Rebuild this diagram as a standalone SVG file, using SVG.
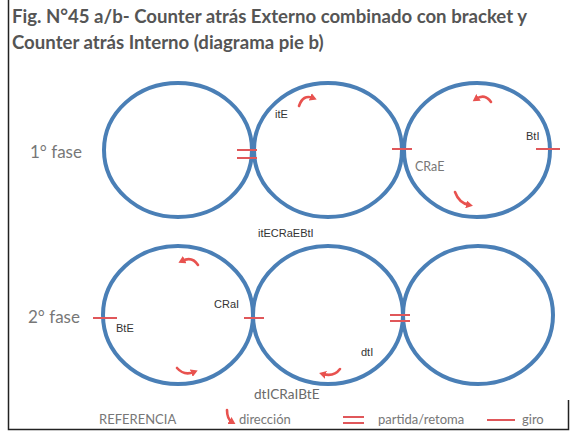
<svg xmlns="http://www.w3.org/2000/svg" width="571" height="432" viewBox="0 0 571 432">
<style>
.ring{fill:none;stroke:#4a7fb6;stroke-width:4}
.red{stroke:#e0575a;stroke-width:2;fill:none}
.arr{stroke:#e8524f;stroke-width:2.6;fill:none;stroke-linecap:round}
.title{font-family:Lato,"Liberation Sans",sans-serif;font-weight:bold;font-size:18.6px;fill:#555}
.fase{font-family:Lato,"Liberation Sans",sans-serif;font-size:17px;fill:#777}
.lbl{font-family:"Liberation Sans",Arial,sans-serif;font-size:11px;fill:#333}
.glbl{font-family:Lato,"Liberation Sans",sans-serif;font-size:12.5px;fill:#777}
.leg{font-family:Lato,"Liberation Sans",sans-serif;font-size:13px;fill:#777}
</style>
<defs>
<marker id="ah" markerUnits="userSpaceOnUse" markerWidth="8" markerHeight="8" refX="3" refY="4" orient="auto">
<path d="M0,0 L7,4 L0,8 z" fill="#e8524f"/>
</marker>
</defs>
<rect width="571" height="432" fill="#fff"/>
<path d="M8.5,0 V429.5 H568.5 V400" fill="none" stroke="#222" stroke-width="1.5"/>
<text class="title" x="12" y="23">Fig. N°45 a/b- Counter atrás Externo combinado con bracket y</text>
<text class="title" x="12" y="49">Counter atrás Interno (diagrama pie b)</text>
<text class="fase" x="30" y="158">1° fase</text>
<text class="fase" x="28" y="323">2° fase</text>
<g id="f1c1"><ellipse class="ring" cx="178" cy="150" rx="74" ry="67"/></g>
<g id="f1c2"><ellipse class="ring" cx="328" cy="150" rx="74" ry="67"/>
<text class="lbl" x="275" y="118">itE</text></g>
<g id="f1c3"><ellipse class="ring" cx="477" cy="150" rx="73" ry="67"/>
<text class="glbl" x="415" y="171">CRaE</text>
<text class="lbl" x="526" y="140">BtI</text></g>
<text class="lbl" x="258" y="237">itECRaEBtI</text>
<g id="f2c1"><ellipse class="ring" cx="178" cy="315" rx="75" ry="69"/>
<text class="lbl" x="214" y="308">CRaI</text>
<text class="lbl" x="116" y="332">BtE</text></g>
<g id="f2c2"><ellipse class="ring" cx="328" cy="315" rx="75" ry="69"/>
<text class="lbl" x="361" y="356">dtI</text></g>
<g id="f2c3"><ellipse class="ring" cx="478" cy="315" rx="75" ry="69"/></g>
<text class="glbl" x="254" y="399" style="font-size:13.6px;fill:#6a6a6a">dtICRaIBtE</text>
<g id="connectors">
<path class="red" d="M237,150 H257 M237,158 H257"/>
<path class="red" d="M392,149 H412"/>
<path class="red" d="M536,149 H560"/>
<path class="red" d="M93,318 H117"/>
<path class="red" d="M244,318 H264"/>
<path class="red" d="M390,315 H410 M390,321 H410"/>
<path class="arr" d="M299,106 Q303,94 313,98" marker-end="url(#ah)"/>
<path class="arr" d="M491,102 Q485,93 476,99" marker-end="url(#ah)"/>
<path class="arr" d="M455,192 Q459,203 469,205" marker-end="url(#ah)"/>
<path class="arr" d="M198,265 Q192,256 182,261" marker-end="url(#ah)"/>
<path class="arr" d="M177,368 Q184,376 194,372" marker-end="url(#ah)"/>
<path class="arr" d="M340,369 Q334,377 323,374" marker-end="url(#ah)"/>
</g>
<g id="legend">
<text class="leg" x="99" y="424">REFERENCIA</text>
<path class="arr" d="M227,410 Q227,419 232,422" marker-end="url(#ah)"/>
<text class="leg" x="239" y="424">dirección</text>
<path class="red" d="M343,417 H364 M343,423 H364" stroke-width="2.2"/>
<text class="leg" x="378" y="424">partida/retoma</text>
<path class="red" d="M487,420 H515" stroke-width="2.5"/>
<text class="leg" x="522" y="424">giro</text>
</g>
</svg>
